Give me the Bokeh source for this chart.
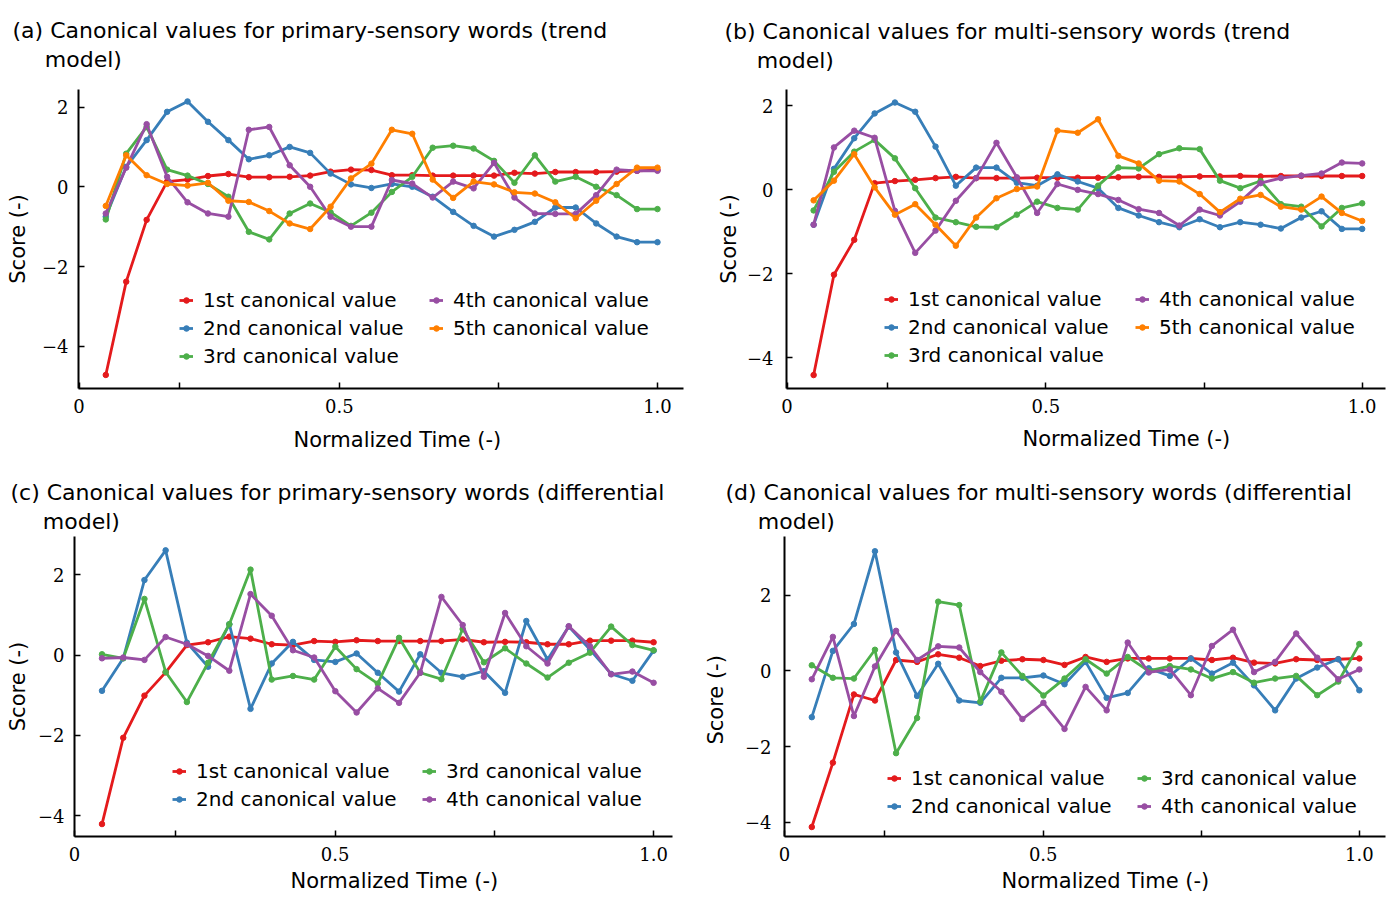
from bokeh.plotting import figure
from bokeh.models import Range1d, FixedTicker, Legend, LegendItem, Title
from bokeh.layouts import column, row
from bokeh.embed import file_html
from bokeh.resources import INLINE

# ---------------- data ----------------
series_labels = ["1st canonical value", "2nd canonical value", "3rd canonical value",
                 "4th canonical value", "5th canonical value"]
series_colors = ["#e41a1c", "#377eb8", "#4daf4a", "#984ea3", "#ff7f00"]

# normalized time of each step (28 steps for trend model, 27 for differential model)
time_trend = [round(k / 28, 4) for k in range(1, 29)]
time_diff = [round(k / 27, 4) for k in range(1, 28)]

x_ticks = [-0.011, 0.165, 0.444, 0.722, 1.0]
x_tick_labels = ["0", "", "0.5", "", "1.0"]
y_ticks = [-4, -2, 0, 2]
y_tick_labels = ["\u22124", "\u22122", "0", "2"]

# (a) primary-sensory words, trend model
a_1st = [-4.72, -2.38, -0.83, 0.13, 0.18, 0.27, 0.32, 0.24, 0.24, 0.25, 0.28, 0.38, 0.43, 0.42,
         0.29, 0.29, 0.28, 0.28, 0.28, 0.28, 0.35, 0.33, 0.37, 0.37, 0.37, 0.38, 0.40, 0.42]
a_2nd = [-0.75, 0.50, 1.17, 1.88, 2.14, 1.63, 1.17, 0.69, 0.79, 1.00, 0.85, 0.33, 0.06, -0.03,
         0.07, 0.00, -0.25, -0.63, -0.98, -1.25, -1.08, -0.88, -0.52, -0.52, -0.92, -1.25, -1.39, -1.39]
a_3rd = [-0.82, 0.83, 1.50, 0.43, 0.28, 0.07, -0.25, -1.13, -1.32, -0.67, -0.42, -0.64, -0.98, -0.65,
         -0.13, 0.25, 0.98, 1.03, 0.96, 0.65, 0.10, 0.79, 0.13, 0.25, 0.00, -0.21, -0.56, -0.56]
a_4th = [-0.67, 0.48, 1.57, 0.25, -0.39, -0.67, -0.75, 1.43, 1.50, 0.54, 0.00, -0.75, -1.00, -1.00,
         0.17, 0.08, -0.27, 0.13, -0.04, 0.60, -0.27, -0.67, -0.68, -0.68, -0.21, 0.43, 0.40, 0.40]
a_5th = [-0.48, 0.79, 0.29, 0.07, 0.03, 0.10, -0.35, -0.38, -0.61, -0.92, -1.06, -0.50, 0.21, 0.58,
         1.43, 1.33, 0.18, -0.28, 0.13, 0.06, -0.14, -0.17, -0.39, -0.79, -0.35, 0.07, 0.48, 0.48]

# (b) multi-sensory words, trend model
b_1st = [-4.41, -2.02, -1.19, 0.16, 0.21, 0.24, 0.28, 0.31, 0.28, 0.28, 0.28, 0.29, 0.29, 0.29,
         0.29, 0.30, 0.31, 0.31, 0.31, 0.32, 0.32, 0.33, 0.32, 0.33, 0.33, 0.33, 0.33, 0.33]
b_2nd = [-0.83, 0.50, 1.23, 1.82, 2.08, 1.86, 1.03, 0.10, 0.53, 0.53, 0.17, 0.10, 0.37, 0.20,
         0.04, -0.43, -0.61, -0.77, -0.89, -0.70, -0.89, -0.77, -0.83, -0.92, -0.66, -0.51, -0.93, -0.93]
b_3rd = [-0.49, 0.43, 0.91, 1.19, 0.75, 0.04, -0.66, -0.77, -0.88, -0.89, -0.59, -0.28, -0.43, -0.47,
         0.10, 0.53, 0.51, 0.85, 0.99, 0.97, 0.22, 0.04, 0.21, -0.34, -0.40, -0.87, -0.43, -0.32]
b_4th = [-0.83, 1.01, 1.41, 1.24, -0.50, -1.50, -0.97, -0.26, 0.28, 1.12, 0.30, -0.55, 0.14, 0.00,
         -0.10, -0.24, -0.46, -0.55, -0.85, -0.47, -0.61, -0.28, 0.16, 0.28, 0.34, 0.39, 0.65, 0.63]
b_5th = [-0.25, 0.22, 0.85, 0.06, -0.59, -0.34, -0.83, -1.33, -0.66, -0.20, 0.02, 0.08, 1.41, 1.36,
         1.68, 0.81, 0.63, 0.22, 0.20, -0.10, -0.53, -0.21, -0.12, -0.40, -0.47, -0.16, -0.55, -0.74]

# (c) primary-sensory words, differential model
c_1st = [-4.21, -2.06, -1.01, -0.43, 0.25, 0.32, 0.46, 0.41, 0.27, 0.25, 0.35, 0.33, 0.37, 0.35,
         0.35, 0.35, 0.35, 0.39, 0.32, 0.33, 0.32, 0.27, 0.27, 0.36, 0.36, 0.36, 0.32]
c_2nd = [-0.89, -0.08, 1.87, 2.61, 0.31, -0.29, 0.77, -1.34, -0.21, 0.33, -0.12, -0.17, 0.04, -0.44,
         -0.91, 0.02, -0.44, -0.54, -0.40, -0.94, 0.85, -0.11, 0.71, 0.14, -0.47, -0.64, 0.11]
c_3rd = [0.02, -0.08, 1.40, -0.42, -1.17, -0.19, 0.77, 2.13, -0.61, -0.52, -0.61, 0.21, -0.35, -0.71,
         0.43, -0.44, -0.60, 0.65, -0.18, 0.17, -0.21, -0.56, -0.19, 0.06, 0.71, 0.25, 0.12]
c_4th = [-0.08, -0.06, -0.12, 0.45, 0.27, -0.02, -0.39, 1.52, 0.98, 0.12, -0.06, -0.90, -1.43, -0.83,
         -1.19, -0.44, 1.45, 0.75, -0.54, 1.05, 0.22, -0.21, 0.72, 0.22, -0.48, -0.41, -0.69]

# (d) multi-sensory words, differential model
d_1st = [-4.12, -2.42, -0.62, -0.78, 0.29, 0.24, 0.44, 0.35, 0.13, 0.27, 0.31, 0.29, 0.16, 0.37,
         0.24, 0.33, 0.33, 0.33, 0.33, 0.29, 0.35, 0.22, 0.20, 0.31, 0.29, 0.31, 0.33]
d_2nd = [-1.22, 0.53, 1.24, 3.16, 0.49, -0.66, 0.19, -0.78, -0.84, -0.18, -0.18, -0.12, -0.35, 0.24,
         -0.71, -0.58, 0.07, -0.13, 0.33, -0.07, 0.22, -0.38, -1.04, -0.20, 0.09, 0.31, -0.51]
d_3rd = [0.15, -0.18, -0.20, 0.56, -2.17, -1.24, 1.83, 1.74, -0.81, 0.49, -0.13, -0.65, -0.20, 0.31,
         -0.07, 0.37, 0.00, 0.13, 0.04, -0.20, -0.03, -0.31, -0.20, -0.13, -0.64, -0.28, 0.71]
d_4th = [-0.22, 0.90, -1.19, 0.12, 1.06, 0.29, 0.65, 0.62, -0.03, -0.55, -1.27, -0.84, -1.53, -0.42,
         -1.04, 0.75, -0.04, 0.04, -0.64, 0.66, 1.09, -0.03, 0.24, 0.99, 0.35, -0.22, 0.04]

INDENT = "\u00a0\u00a0\u00a0\u00a0\u2009"

# ---------------- layout (page pixel positions, page origin at 0,0) ----------------
ROW2 = 476
panels = [
    dict(box=(0, 0, 705, ROW2), frame=(78, 89, 683, 389), xr=(-0.012, 1.0455), yr=(-5.06, 2.44),
         x=time_trend, ys=[a_1st, a_2nd, a_3rd, a_4th, a_5th],
         title=("(a) Canonical values for primary-sensory words (trend", 12),
         xlabel_left=293, xlab_stand=20, ystand=10, ylab_stand=9, ylabel="Score (-)",
         legend_cols=[((186, 300), [0, 1, 2]), ((436, 300), [3, 4])]),
    dict(box=(705, 0, 689, ROW2), frame=(786, 88, 1385, 388), xr=(-0.012, 1.041), yr=(-4.73, 2.39),
         x=time_trend, ys=[b_1st, b_2nd, b_3rd, b_4th, b_5th],
         title=("(b) Canonical values for multi-sensory words (trend", 724),
         xlabel_left=1022, xlab_stand=18, ystand=13, ylab_stand=3, ylabel="Score (-)",
         legend_cols=[((891, 298), [0, 1, 2]), ((1142, 298), [3, 4])]),
    dict(box=(0, ROW2, 700, 420), frame=(74, 536, 672, 836), xr=(-0.011, 1.033), yr=(-4.52, 2.955),
         x=time_diff, ys=[c_1st, c_2nd, c_3rd, c_4th],
         title=("(c) Canonical values for primary-sensory words (differential", 10),
         xlabel_left=290, xlab_stand=7, ystand=10, ylab_stand=5, ylabel="Score (-)",
         legend_cols=[((179, 770), [0, 1]), ((429, 770), [2, 3])]),
    dict(box=(700, ROW2, 694, 420), frame=(783, 536, 1385, 836), xr=(-0.011, 1.046), yr=(-4.37, 3.55),
         x=time_diff, ys=[d_1st, d_2nd, d_3rd, d_4th],
         title=("(d) Canonical values for multi-sensory words (differential", 724),
         xlabel_left=1000, xlab_stand=7, ystand=13, ylab_stand=14,
         ylabel="Score (-)\u00a0\u00a0\u00a0\u00a0",
         legend_cols=[((893, 777), [0, 1]), ((1143, 777), [2, 3])]),
]

SANS = "DejaVu Sans"
SERIF = "DejaVu Serif"


def make_panel(spec):
    ox, oy, w, h = spec["box"]
    L, T, R, B = spec["frame"]
    F = T - oy
    p = figure(width=w, height=h, output_backend="svg", toolbar_location=None,
               x_range=Range1d(*spec["xr"]), y_range=Range1d(*spec["yr"]),
               min_border_left=L - ox, min_border_right=ox + w - R,
               min_border_top=F, min_border_bottom=oy + h - B)
    p.grid.visible = False
    p.outline_line_color = None
    p.background_fill_color = "white"
    p.border_fill_color = "white"

    for ax in (p.xaxis[0], p.yaxis[0]):
        ax.axis_line_color = "black"
        ax.axis_line_width = 2
        ax.major_tick_in = 6
        ax.major_tick_out = 0
        ax.major_tick_line_color = "black"
        ax.major_tick_line_width = 1.5
        ax.minor_tick_line_color = None
        ax.major_label_text_font = SERIF
        ax.major_label_text_font_size = "18px"
        ax.major_label_text_color = "black"

    p.xaxis[0].ticker = FixedTicker(ticks=x_ticks)
    p.xaxis[0].major_label_overrides = dict(zip(x_ticks, x_tick_labels))
    p.xaxis[0].major_label_standoff = 10
    p.yaxis[0].ticker = FixedTicker(ticks=y_ticks)
    p.yaxis[0].major_label_overrides = dict(zip(y_ticks, y_tick_labels))
    p.yaxis[0].major_label_standoff = spec["ystand"]
    p.yaxis[0].axis_label = spec["ylabel"]
    p.yaxis[0].axis_label_text_font = SANS
    p.yaxis[0].axis_label_text_font_size = "21px"
    p.yaxis[0].axis_label_text_font_style = "normal"
    p.yaxis[0].axis_label_text_color = "black"
    p.yaxis[0].axis_label_standoff = spec["ylab_stand"]

    items = []
    for i, ys in enumerate(spec["ys"]):
        col = series_colors[i]
        lr = p.line(spec["x"], ys, line_color=col, line_width=2.8, line_join="round")
        sr = p.scatter(spec["x"], ys, size=5.5, fill_color=col, line_color=col)
        items.append(LegendItem(label=series_labels[i], renderers=[lr, sr]))

    for (cx, cy), idxs in spec["legend_cols"]:
        n = len(idxs)
        bottom = cy + 13 + 28 * (n - 1)
        lg = Legend(items=[items[j] for j in idxs],
                    location=(cx - 7 - L, B - bottom),
                    orientation="vertical",
                    glyph_width=14, glyph_height=24, label_height=24,
                    label_standoff=10, spacing=4, padding=0, margin=0,
                    label_text_font=SANS, label_text_font_size="20px",
                    label_text_color="black",
                    background_fill_alpha=0, border_line_alpha=0)
        p.add_layout(lg, "center")

    t1, x1 = spec["title"]
    block = 56
    p.add_layout(Title(text=t1 + "\n" + INDENT + "model)", align="left", offset=x1 - L,
                       vertical_align="top", standoff=F - 2 - block,
                       text_font=SANS, text_font_size="22px", text_font_style="normal",
                       text_line_height=1.17, text_color="black"), "above")
    p.add_layout(Title(text="Normalized Time (-)", align="left", offset=spec["xlabel_left"] - L,
                       standoff=spec["xlab_stand"], vertical_align="bottom",
                       text_font=SANS, text_font_size="21px",
                       text_font_style="normal", text_color="black"), "below")
    return p


figs = [make_panel(s) for s in panels]
layout = column(row(figs[0], figs[1]), row(figs[2], figs[3]))

with open("out.html", "w") as f:
    f.write(file_html(layout, INLINE, "Canonical values"))
